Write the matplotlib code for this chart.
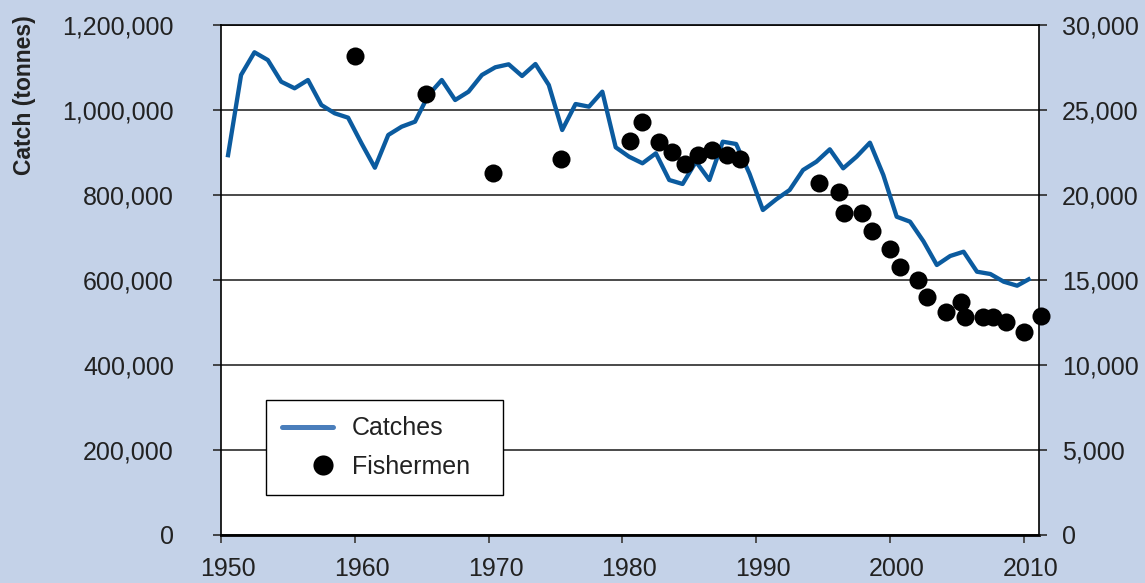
import matplotlib
matplotlib.use("Agg")
import matplotlib.pyplot as plt
import matplotlib.transforms as mtransforms
from matplotlib.lines import Line2D
from matplotlib.legend_handler import HandlerLine2D
from matplotlib.ticker import FuncFormatter
import numpy as np

plt.rcParams['font.family'] = ['Liberation Sans', 'DejaVu Sans']

# ---------------- data ----------------
catch_years = list(range(1950, 2011))
catch_tonnes = [
    888700, 1082400, 1135800, 1117600, 1066600, 1051100, 1070600, 1011800, 992200, 981900,   # 1950-59
    921600, 864200, 941200, 960700, 972500, 1035000, 1070600, 1023500, 1043100, 1082400,     # 1960-69
    1100500, 1107500, 1080000, 1108200, 1058800, 952900, 1014100, 1007800, 1043100, 912200,  # 1970-79
    890100, 874600, 898100, 835300, 825900, 878400, 835300, 925400, 920000, 850100,          # 1980-89
    764700, 789900, 811800, 858800, 878400, 907500, 862800, 890100, 923100, 847100,          # 1990-99
    748900, 737200, 691100, 635300, 656500, 666600, 619500, 614100, 596000, 586600,          # 2000-09
    604000,                                                                                  # 2010
]

fisher_years = [1960.0, 1965.3, 1970.35, 1975.4, 1980.55, 1981.45, 1982.7, 1983.7, 1984.65,
                1985.65, 1986.7, 1987.8, 1988.8, 1994.7, 1996.2, 1996.55, 1997.9, 1998.65,
                2000.0, 2000.75, 2002.1, 2002.8, 2004.2, 2005.3, 2005.6, 2006.95, 2007.7,
                2008.7, 2010.05, 2011.3]
fishermen = [28200, 25950, 21280, 22120, 23190, 24310, 23140, 22550, 21810,
             22350, 22650, 22350, 22120, 20720, 20190, 18960, 18960, 17880,
             16810, 15750, 15000, 14020, 13100, 13690, 12840, 12840, 12840,
             12550, 11960, 12880]

x_ticks = [1950, 1960, 1970, 1980, 1990, 2000, 2010]
left_ticks = [0, 200000, 400000, 600000, 800000, 1000000, 1200000]
right_ticks = [0, 5000, 10000, 15000, 20000, 25000, 30000]

series_labels = ['Catches', 'Fishermen']
y_label = 'Catch (tonnes)'

# ---------------- style ----------------
BG = '#C4D2E8'
LINE_C = '#0B5B9F'
LEG_LINE_C = '#4A7EBB'
TXT = '#222222'
GRID = '#2b2b2b'

W, H = 1145, 583
fig = plt.figure(figsize=(W / 100, H / 100), dpi=100, facecolor=BG)
ax_l, ax_r, ax_t, ax_b = 221, 1039, 25, 535
ax = fig.add_axes([ax_l / W, 1 - ax_b / H, (ax_r - ax_l) / W, (ax_b - ax_t) / H])
ax.set_facecolor('white')

px_per_year = 13.38
ax.set_xlim(1950, 1950 + (ax_r - ax_l) / px_per_year)
ax.set_ylim(0, 1200000)

ax.plot(np.array(catch_years) + 0.5, catch_tonnes, color=LINE_C, lw=3.1,
        solid_joinstyle='round', solid_capstyle='butt', zorder=3)

ax.set_axisbelow(True)
ax.yaxis.grid(True, color=GRID, lw=1.2)
ax.set_yticks(left_ticks)
ax.yaxis.set_major_formatter(FuncFormatter(lambda v, p: f"{int(v):,}"))
ax.tick_params(axis='y', direction='out', length=6, width=1.2, color=GRID,
               labelsize=18, labelcolor=TXT, pad=28)
ax.set_xticks(x_ticks)
ax.tick_params(axis='x', direction='out', length=6, width=1.3, color='#444444',
               labelsize=18, labelcolor=TXT, pad=10)

for name, sp in ax.spines.items():
    sp.set_color('black')
    sp.set_linewidth(1.2)
ax.spines['bottom'].set_linewidth(2)
ax.spines['right'].set_visible(False)

# secondary axis
ax2 = ax.twinx()
ax2.set_ylim(0, 30000)
ax2.set_yticks(right_ticks)
ax2.yaxis.set_major_formatter(FuncFormatter(lambda v, p: f"{int(v):,}"))
ax2.tick_params(axis='y', direction='out', length=6, width=1.2, color=GRID,
                labelsize=18, labelcolor=TXT, pad=10.5)
for name, sp in ax2.spines.items():
    sp.set_visible(name == 'right')
ax2.spines['right'].set_color('black')
ax2.spines['right'].set_linewidth(1.2)

ax2.scatter(fisher_years, fishermen, s=13 ** 2, color='black', zorder=4,
            clip_on=False, linewidths=0)

# shift x tick labels slightly right as in the reference
offset = mtransforms.ScaledTranslation(7 / 100, 0, fig.dpi_scale_trans)
for lbl in ax.get_xticklabels():
    lbl.set_transform(lbl.get_transform() + offset)

# y label
fig.text(25 / W, 1 - 15 / H, y_label, rotation=90, ha='center', va='top',
         fontsize=16.5, fontweight='bold', color=TXT)


# legend with marker aligned to the right end of the handle
class RightMarkerHandler(HandlerLine2D):
    def get_xdata(self, legend, xdescent, ydescent, width, height, fontsize):
        r = 7.25
        xdata = [-xdescent + width - 2 * r, -xdescent + width]
        return xdata, [-xdescent + width - r]


line_h = Line2D([], [], color=LEG_LINE_C, lw=3.6, solid_capstyle='round')
dot_h = Line2D([], [], ls='none', marker='o', ms=14.5, color='black',
               markeredgewidth=0)

bx0 = (265.7 - ax_l) / (ax_r - ax_l)
bw = (503.3 - 265.7) / (ax_r - ax_l)
btop = (ax_b - 400) / (ax_b - ax_t)
leg = ax2.legend([line_h, dot_h], series_labels, loc='upper left',
                 bbox_to_anchor=(bx0, 0.0, bw, btop), mode='expand',
                 borderaxespad=0, fontsize=18, frameon=True, fancybox=False,
                 edgecolor='black', framealpha=1, borderpad=0.65,
                 handlelength=2.06, handletextpad=0.75, labelspacing=0.58,
                 handler_map={dot_h: RightMarkerHandler()})
leg.get_frame().set_linewidth(1.0)
for t in leg.get_texts():
    t.set_color(TXT)

fig.savefig('out.png', dpi=100, facecolor=BG)
